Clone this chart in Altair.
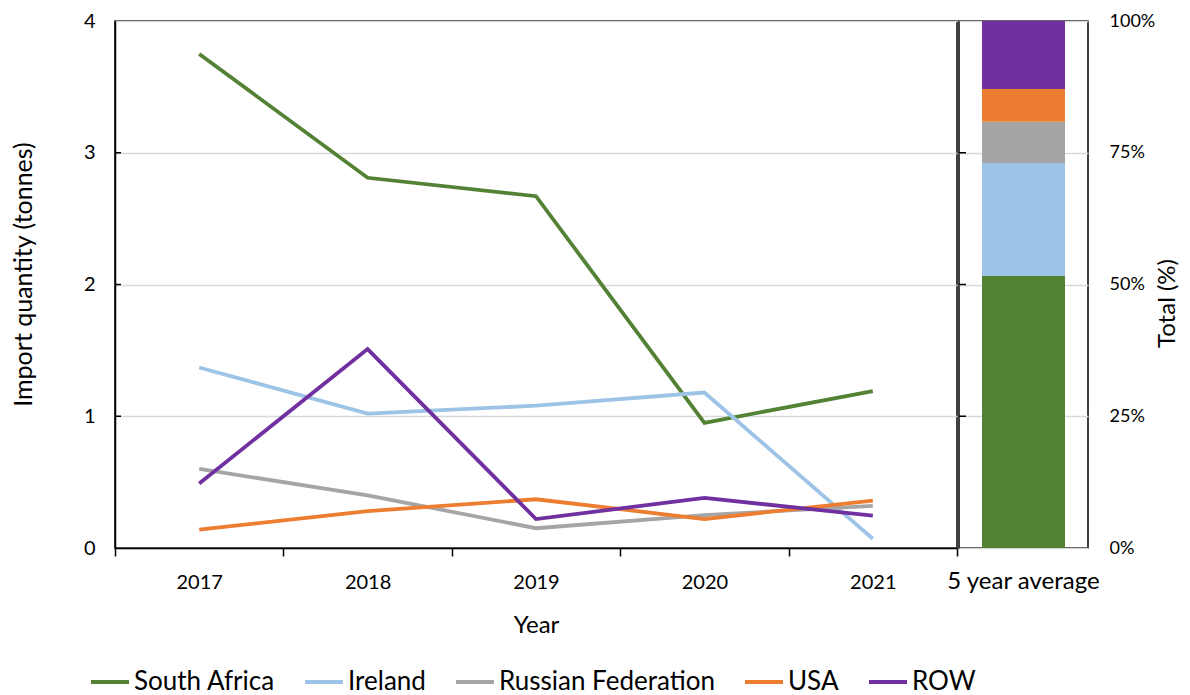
import altair as alt
import pandas as pd

years = ["2017", "2018", "2019", "2020", "2021"]
countries = ["South Africa", "Ireland", "Russian Federation", "USA", "ROW"]
south_africa = [3.75, 2.81, 2.67, 0.95, 1.19]
ireland = [1.37, 1.02, 1.08, 1.18, 0.07]
russia = [0.60, 0.40, 0.15, 0.25, 0.32]
usa = [0.14, 0.28, 0.37, 0.22, 0.36]
row = [0.49, 1.51, 0.22, 0.38, 0.245]
colors = ["#548235", "#9DC3E6", "#A5A5A5", "#ED7D31", "#7030A0"]
y_ticks = [0, 1, 2, 3, 4]
pct_ticks = [0, 0.25, 0.5, 0.75, 1.0]
inner_y_ticks = [1, 2, 3]
inner_pct_ticks = [0.25, 0.5, 0.75]
avg_label = "5 year average"

series = [south_africa, ireland, russia, usa, row]
records = []
for ci, (name, vals) in enumerate(zip(countries, series)):
    for yr, v in zip(years, vals):
        records.append({"country": name, "year": yr, "value": v, "idx": ci})
df = pd.DataFrame(records)
tick_df = pd.DataFrame({"value": inner_y_ticks})
pct_tick_df = pd.DataFrame({"pct": inner_pct_ticks})

SANS = "Lato"

color = alt.Color(
    "country:N",
    scale=alt.Scale(domain=countries, range=colors),
    legend=alt.Legend(
        title=None,
        orient="none",
        direction="horizontal",
        legendX=-26,
        legendY=640,
        symbolType="stroke",
        symbolStrokeWidth=4,
        symbolSize=1444,
        labelFont=SANS,
        labelFontSize=26,
        labelColor="#000000",
        labelLimit=400,
        columnPadding=22,
        labelOffset=3,
    ),
)

lines = alt.Chart(df).mark_line(strokeWidth=3.8).encode(
    x=alt.X(
        "year:N",
        bandPosition=0.5,
        scale=alt.Scale(type="band", paddingInner=0, paddingOuter=0),
        axis=alt.Axis(
            title="Year",
            labelAngle=0,
            tickBand="extent",
            tickSize=8,
            tickColor="#000000",
            tickWidth=1.5,
            domainColor="#000000",
            domainWidth=1.5,
            labelFont=SANS,
            labelFontSize=20,
            labelPadding=16,
            titleFont=SANS,
            titleFontSize=24,
            titleFontWeight="normal",
            titlePadding=21,
            grid=False,
        ),
    ),
    y=alt.Y(
        "value:Q",
        title="Import quantity (tonnes)",
        scale=alt.Scale(domain=[0, 4], nice=False),
        axis=alt.Axis(
            title="Import quantity (tonnes)",
            values=y_ticks,
            format="d",
            ticks=False,
            domainColor="#000000",
            domainWidth=1.5,
            labelFont=SANS,
            labelFontSize=20,
            labelPadding=20,
            titleFont=SANS,
            titleFontSize=25,
            titleFontWeight="normal",
            titlePadding=47,
            titleY=253,
            gridColor="#d9d9d9",
            gridWidth=1.5,
        ),
    ),
    color=color,
    detail="country:N",
)

left_ticks = alt.Chart(tick_df).mark_rule(color="#000000", strokeWidth=1.5).encode(
    y=alt.Y("value:Q", title="Import quantity (tonnes)"),
    x=alt.value(0),
    x2=alt.value(6),
)

left = alt.layer(lines, left_ticks).properties(width=842, height=527)

bar = alt.Chart(df).transform_calculate(
    label=f"'{avg_label}'"
).mark_bar(size=83).encode(
    x=alt.X(
        "label:N",
        axis=alt.Axis(
            title=None,
            labelAngle=0,
            ticks=False,
            domain=False,
            labelFont=SANS,
            labelFontSize=24,
            labelPadding=21,
        ),
    ),
    y=alt.Y(
        "mean(value):Q",
        title="Total (%)",
        stack="normalize",
        scale=alt.Scale(domain=[0, 1], nice=False),
        axis=alt.Axis(
            orient="right",
            title="Total (%)",
            values=pct_ticks,
            format=".0%",
            ticks=False,
            domain=False,
            labelFont=SANS,
            labelFontSize=18,
            labelPadding=21,
            titleFont=SANS,
            titleFontSize=24,
            titleFontWeight="normal",
            titleAngle=270,
            titleBaseline="top",
            titlePadding=1,
            titleY=282,
            gridColor="#d9d9d9",
            gridWidth=1.5,
        ),
    ),
    color=color,
    order=alt.Order("idx:Q", sort="ascending"),
)

right_ticks = alt.Chart(pct_tick_df).mark_rule(color="#000000", strokeWidth=1.5).encode(
    y=alt.Y("pct:Q", title="Total (%)"),
    x=alt.value(0),
    x2=alt.value(7),
)

right = alt.layer(bar, right_ticks).properties(width=129, height=527)

chart = alt.hconcat(left, right, spacing=2, bounds="flush").configure_view(
    stroke="#000000", strokeWidth=1.5
).configure_axis(
    labelColor="#000000", titleColor="#000000"
).properties(
    padding={"left": 2, "top": 2, "right": 0, "bottom": 0}
)

chart.save("out.html", embed_options={"renderer": "svg", "actions": False})
